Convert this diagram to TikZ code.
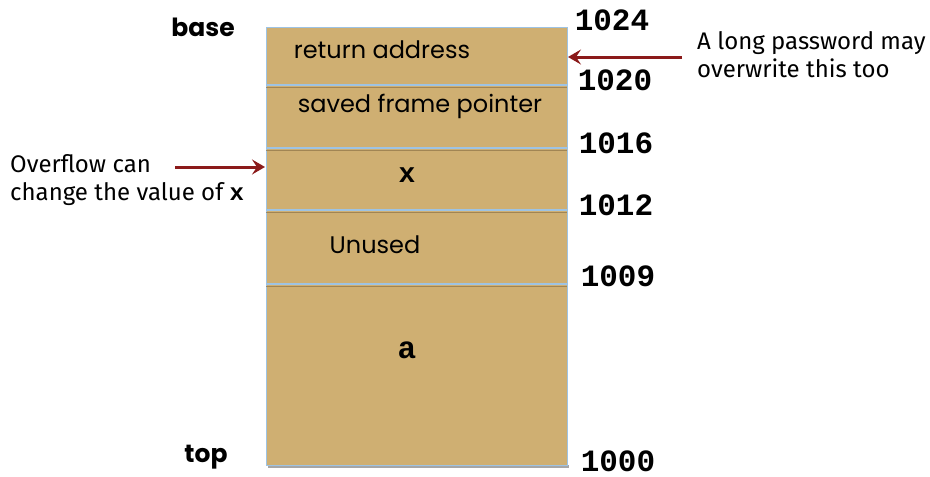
\documentclass[tikz,border=0pt]{standalone}
\usepackage{fontspec}
\setmainfont{Lato}
\newfontfamily\gothic{Poppins}
\newfontfamily\monob{Liberation Mono}
\newfontfamily\note{Fira Sans}
\usetikzlibrary{arrows.meta}
\definecolor{cellfill}{HTML}{CFAF72}
\definecolor{cellline}{HTML}{9EC3E3}
\definecolor{cellshade}{HTML}{8E7448}
\definecolor{arrowred}{HTML}{8B1A1A}
\tikzset{
  x=1pt, y=-1pt,
  celltext/.style={font=\gothic\fontsize{24}{27}\selectfont, anchor=center, inner sep=0pt},
  addr/.style={font=\monob\bfseries\fontsize{31}{33}\selectfont, anchor=center, inner sep=0pt},
  endlabel/.style={font=\gothic\bfseries\fontsize{25}{27}\selectfont, anchor=center, inner sep=0pt},
  notetext/.style={font=\note\fontsize{24}{28.5}\selectfont, inner sep=0pt, align=left},
  pointer/.style={draw=arrowred, line width=3pt, -{Stealth[length=13pt,width=15pt,inset=5pt]}},
  sep/.style={draw=cellline, line width=1.2pt},
  sepshade/.style={draw=cellshade, line width=1.5pt, opacity=0.7}
}
\begin{document}
\begin{tikzpicture}
\useasboundingbox (0,0) rectangle (930,477);
% stack body with a soft shadow at the bottom
\fill[black!35] (268,465) rectangle (569,468);
\fill[cellfill] (266,27) rectangle (567,465);
\draw[cellline, line width=0.8pt] (266,27) rectangle (567,465);
% separators between frame slots
\foreach \y in {85,148,210,284}{
  \draw[sepshade] (266,\y+2.5) -- (567,\y+2.5);
  \draw[sep] (266,\y) -- (567,\y);
}
% slot contents
\node[celltext] (ret) at (382,50) {return address};
\node[celltext] (sfp) at (420,106) {saved frame pointer};
\node[font=\monob\bfseries\fontsize{28}{30}\selectfont, inner sep=0pt] (x) at (407,175) {x};
\node[celltext] (unused) at (375,245) {Unused};
\node[font=\monob\bfseries\fontsize{31}{33}\selectfont, inner sep=0pt] (a) at (407,350) {a};
% ends of the stack
\node[endlabel] (base) at (203,27) {base};
\node[endlabel] (top) at (206,457) {top};
% addresses
\node[addr] (a1024) at (612,20) {1024};
\node[addr] (a1020) at (615,80) {1020};
\node[addr] (a1016) at (616,143) {1016};
\node[addr] (a1012) at (616,205) {1012};
\node[addr] (a1009) at (618,276) {1009};
\node[addr] (a1000) at (618,461) {1000};
% annotations
\node[notetext, anchor=north west] (pw) at (697,31) {A long password may\\overwrite this too};
\node[notetext, anchor=north west] (ov) at (10,154) {Overflow can\\change the value of {\monob\bfseries x}};
\coordinate (pwtail) at (682,57);
\coordinate (pwhead) at (568,57);
\coordinate (ovtail) at (175,167);
\coordinate (ovhead) at (265,167);
\draw[pointer] (pwtail) -- (pwhead);
\draw[pointer] (ovtail) -- (ovhead);
\end{tikzpicture}
\end{document}
